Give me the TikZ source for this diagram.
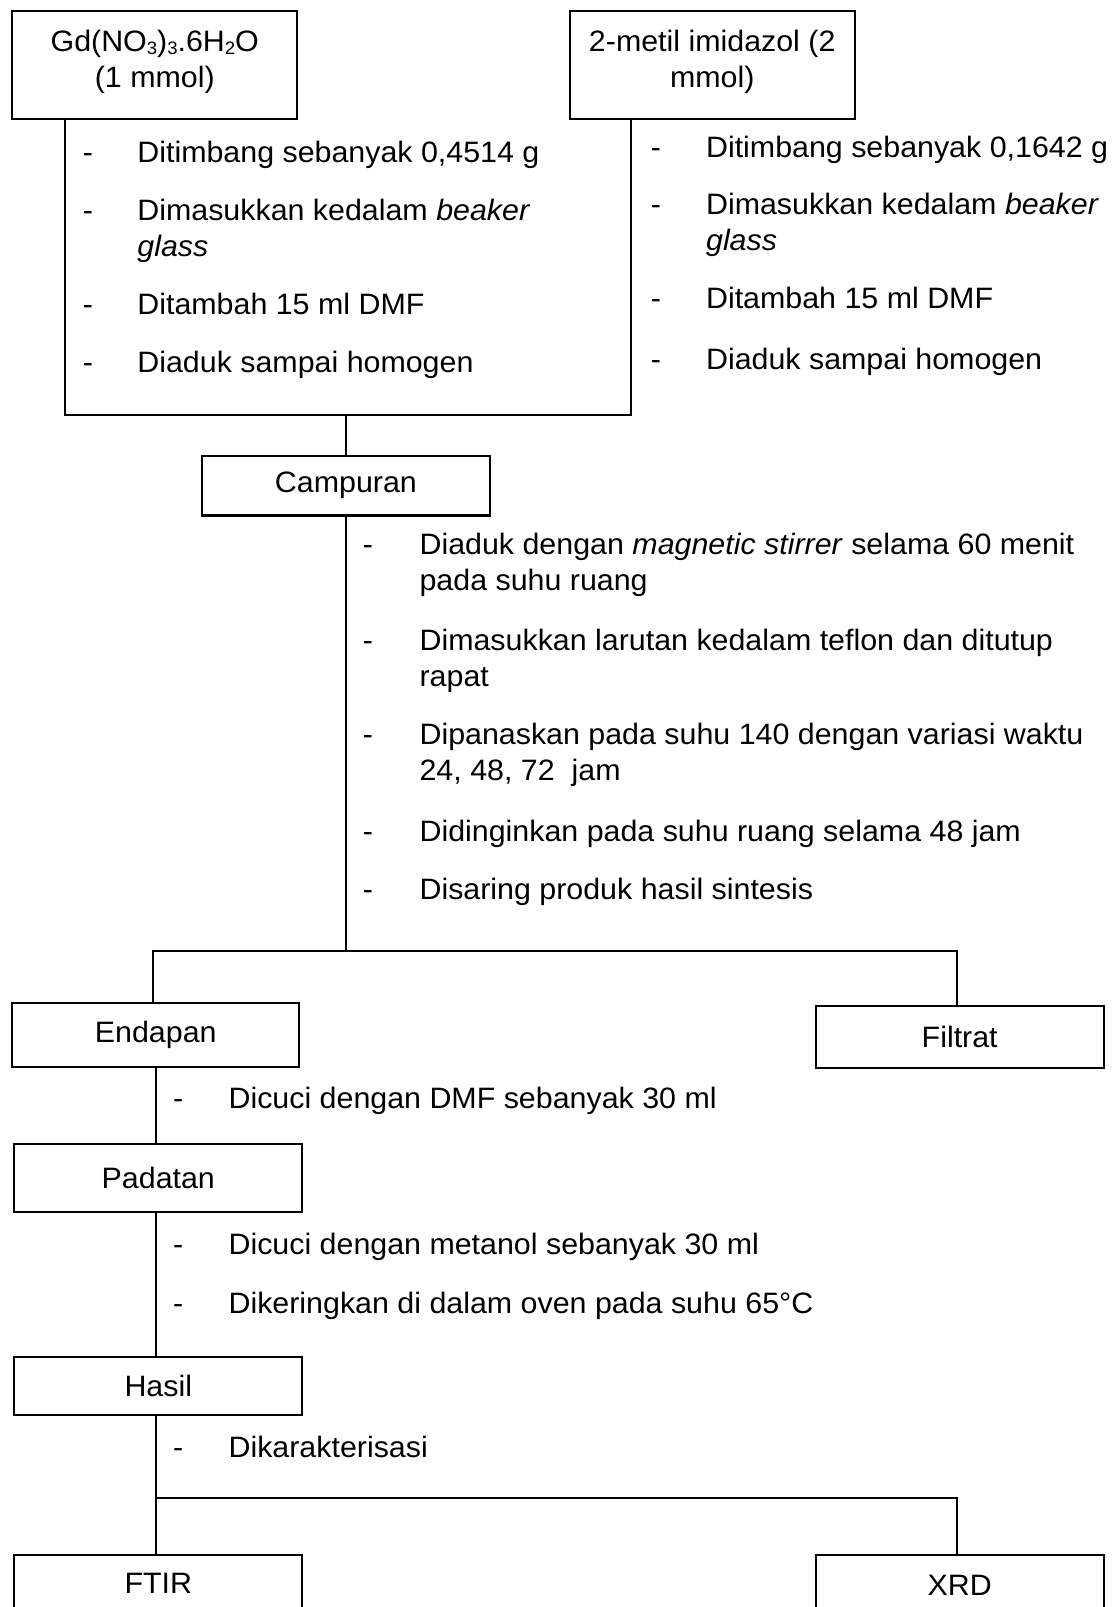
\documentclass[tikz,border=0pt]{standalone}
\usepackage{fontspec}
\setmainfont{Liberation Sans}[FakeStretch=1.03]
\newcommand{\mysub}[1]{\raisebox{-0.1em}{\fontsize{18}{18}\selectfont #1}}
\newcommand{\twolines}[2]{\begin{tabular}[t]{@{}l@{}}#1\\#2\end{tabular}}
\begin{document}
\begin{tikzpicture}[x=1pt,y=-1pt, line width=2.2pt,
  box/.style={draw, line width=2.2pt, inner sep=0pt, align=center},
  dashmark/.style={anchor=base, inner sep=0pt},
  itemtxt/.style={anchor=base west, inner sep=0pt},
  font=\fontsize{29.5}{36}\selectfont]
\useasboundingbox[fill=white] (0,0) rectangle (1114,1607);
\clip (0,0) rectangle (1114,1607);

% boxes
\node[box, minimum width=284.9pt, minimum height=107.6pt] (gd) at (154.75,65.1)
  {Gd(NO\mysub{3})\mysub{3}.6H\mysub{2}O\\(1 mmol)\rule[-12.5pt]{0pt}{0pt}};
\node[box, minimum width=284.9pt, minimum height=107.6pt] (mi) at (712.25,65.1)
  {2-metil imidazol (2\\mmol)\rule[-12.5pt]{0pt}{0pt}};
\node[box, minimum width=288pt, minimum height=59.5pt] (camp) at (345.9,485.75) {Campuran};
\node[box, minimum width=286.9pt, minimum height=64pt] (endapan) at (155.75,1035.3) {Endapan};
\node[box, minimum width=288pt, minimum height=62.3pt] (filtrat) at (959.7,1037.15) {Filtrat};
\node[box, minimum width=288pt, minimum height=67.7pt] (padatan) at (158.3,1177.85) {Padatan};
\node[box, minimum width=288pt, minimum height=57.7pt] (hasil) at (158.3,1386.15) {Hasil};
\node[box, minimum width=288pt, minimum height=55.9pt] (ftir) at (158.3,1583.25) {FTIR};
\node[box, minimum width=288pt, minimum height=59.9pt] (xrd) at (959.7,1585.25) {XRD};

% connectors
\coordinate (bl) at (64.6,415);
\coordinate (br) at (631.3,415);
\draw (bl |- gd.south) -- (bl) -- (br) -- (br |- mi.south);
\draw (camp.north |- bl) -- (camp.north);
\coordinate (hl) at (152.7,950.7);
\coordinate (hr) at (957,950.7);
\draw (camp.south) -- (camp.south |- hl);
\draw (hl |- endapan.north) -- (hl) -- (hr) -- (hr |- filtrat.north);
\coordinate (sp) at (155.8,1498.3);
\coordinate (h2r) at (957,1498.3);
\draw (sp |- endapan.south) -- (sp |- padatan.north);
\draw (sp |- padatan.south) -- (sp |- hasil.north);
\draw (sp |- hasil.south) -- (sp |- ftir.north);
\draw (sp) -- (h2r) -- (h2r |- xrd.north);

% left column steps
\node[dashmark] (la1) at (88,162.7) {-};
\node[itemtxt] (lb1) at (136.3,162.7) {Ditimbang sebanyak 0,4514 g};
\node[dashmark] (la2) at (88,220) {-};
\node[itemtxt] (lb2) at (136.3,220) {\twolines{Dimasukkan kedalam \textit{beaker}}{\textit{glass}}};
\node[dashmark] (la3) at (88,314) {-};
\node[itemtxt] (lb3) at (136.3,314) {Ditambah 15 ml DMF};
\node[dashmark] (la4) at (88,372) {-};
\node[itemtxt] (lb4) at (136.3,372) {Diaduk sampai homogen};

% right column steps
\node[dashmark] (ra1) at (656,157) {-};
\node[itemtxt] (rb1) at (705,157) {Ditimbang sebanyak 0,1642 g};
\node[dashmark] (ra2) at (656,214) {-};
\node[itemtxt] (rb2) at (705,214) {\twolines{Dimasukkan kedalam \textit{beaker}}{\textit{glass}}};
\node[dashmark] (ra3) at (656,308) {-};
\node[itemtxt] (rb3) at (705,308) {Ditambah 15 ml DMF};
\node[dashmark] (ra4) at (656,369) {-};
\node[itemtxt] (rb4) at (705,369) {Diaduk sampai homogen};

% campuran steps
\node[dashmark] (ca1) at (368,554) {-};
\node[itemtxt] (cb1) at (418.5,554) {\twolines{Diaduk dengan \textit{magnetic stirrer} selama 60 menit}{pada suhu ruang}};
\node[dashmark] (ca2) at (368,650) {-};
\node[itemtxt] (cb2) at (418.5,650) {\twolines{Dimasukkan larutan kedalam teflon dan ditutup}{rapat}};
\node[dashmark] (ca3) at (368,744) {-};
\node[itemtxt] (cb3) at (418.5,744) {\twolines{Dipanaskan pada suhu 140 dengan variasi waktu}{24, 48, 72\ \ jam}};
\node[dashmark] (ca4) at (368,841) {-};
\node[itemtxt] (cb4) at (418.5,841) {Didinginkan pada suhu ruang selama 48 jam};
\node[dashmark] (ca5) at (368,899) {-};
\node[itemtxt] (cb5) at (418.5,899) {Disaring produk hasil sintesis};

% lower steps
\node[dashmark] (ea1) at (178.3,1108.5) {-};
\node[itemtxt] (eb1) at (227.5,1108.5) {Dicuci dengan DMF sebanyak 30 ml};
\node[dashmark] (pa1) at (178.3,1254) {-};
\node[itemtxt] (pb1) at (227.5,1254) {Dicuci dengan metanol sebanyak 30 ml};
\node[dashmark] (pa2) at (178.3,1313) {-};
\node[itemtxt] (pb2) at (227.5,1313) {Dikeringkan di dalam oven pada suhu 65°C};
\node[dashmark] (ha1) at (178.3,1457) {-};
\node[itemtxt] (hb1) at (227.5,1457) {Dikarakterisasi};
\end{tikzpicture}
\end{document}
